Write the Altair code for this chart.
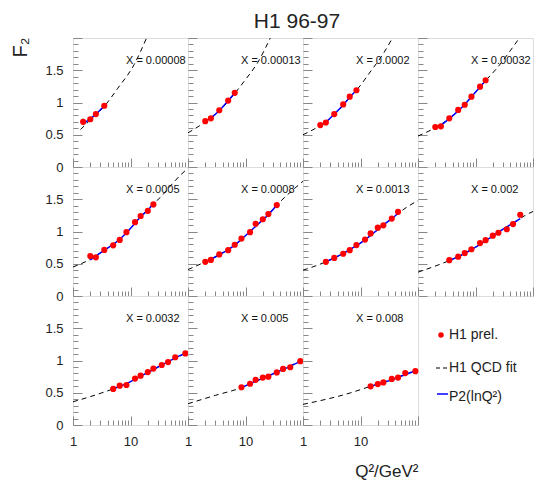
import altair as alt
import pandas as pd

FONT = "Liberation Sans"
W, H = 115, 129

main_title = "H1 96-97"
panel_labels = ["X = 0.00008", "X = 0.00013", "X = 0.0002", "X = 0.00032",
                "X = 0.0005", "X = 0.0008", "X = 0.0013", "X = 0.002",
                "X = 0.0032", "X = 0.005", "X = 0.008"]

# H1 preliminary data points
q2_data = [
    [1.5, 2, 2.5, 3.5],
    [2, 2.5, 3.5, 5, 6.5],
    [2, 2.5, 3.5, 5, 6.5, 8.5],
    [2, 2.5, 3.5, 5, 6.5, 8.5, 12, 15],
    [2, 2.5, 3.5, 5, 6.5, 8.5, 12, 15, 20, 25],
    [2, 2.5, 3.5, 5, 6.5, 8.5, 12, 15, 20, 25, 35],
    [2.5, 3.5, 5, 6.5, 8.5, 12, 15, 20, 25, 35, 45],
    [3.5, 5, 6.5, 8.5, 12, 15, 20, 25, 35, 45, 60],
    [5, 6.5, 8.5, 12, 15, 20, 25, 35, 45, 60, 90],
    [8.5, 12, 15, 20, 25, 35, 45, 60, 90],
    [15, 20, 25, 35, 45, 60, 90],
]
f2_data = [
    [0.70, 0.74, 0.82, 0.95],
    [0.71, 0.755, 0.88, 1.03, 1.15],
    [0.65, 0.69, 0.82, 0.97, 1.09, 1.19],
    [0.62, 0.63, 0.755, 0.885, 0.965, 1.09, 1.245, 1.345],
    [0.62, 0.60, 0.715, 0.785, 0.87, 0.99, 1.145, 1.24, 1.32, 1.42],
    [0.53, 0.56, 0.645, 0.71, 0.795, 0.89, 0.99, 1.12, 1.19, 1.27, 1.41],
    [0.53, 0.59, 0.655, 0.71, 0.79, 0.875, 0.97, 1.06, 1.095, 1.20, 1.305],
    [0.555, 0.61, 0.665, 0.725, 0.82, 0.865, 0.935, 0.98, 1.035, 1.115, 1.26],
    [0.56, 0.61, 0.62, 0.72, 0.765, 0.82, 0.875, 0.93, 0.975, 1.05, 1.11],
    [0.585, 0.64, 0.70, 0.735, 0.75, 0.815, 0.87, 0.895, 0.99],
    [0.60, 0.635, 0.66, 0.715, 0.735, 0.805, 0.835],
]
f2_err = [
    [0.05, 0.03, 0.03, 0.03],
    [0.03] * 5,
    [0.03] * 6,
    [0.03] * 8,
    [0.03] * 10,
    [0.03] * 11,
    [0.03] * 11,
    [0.03] * 11,
    [0.03] * 11,
    [0.03] * 9,
    [0.03] * 7,
]
# P2(lnQ2) fit, read at the data Q2 values
p2_fit = [
    [0.665, 0.75, 0.82, 0.95],
    [0.71, 0.76, 0.875, 1.03, 1.15],
    [0.645, 0.695, 0.82, 0.96, 1.08, 1.19],
    [0.61, 0.65, 0.75, 0.87, 0.97, 1.09, 1.24, 1.34],
    [0.56, 0.62, 0.71, 0.80, 0.88, 0.98, 1.13, 1.23, 1.33, 1.43],
    [0.53, 0.57, 0.64, 0.72, 0.79, 0.88, 1.00, 1.08, 1.18, 1.26, 1.41],
    [0.53, 0.59, 0.66, 0.72, 0.78, 0.87, 0.94, 1.03, 1.10, 1.20, 1.28],
    [0.55, 0.61, 0.66, 0.72, 0.80, 0.86, 0.93, 0.99, 1.07, 1.13, 1.20],
    [0.56, 0.60, 0.64, 0.71, 0.76, 0.81, 0.86, 0.93, 0.98, 1.04, 1.11],
    [0.58, 0.64, 0.68, 0.72, 0.76, 0.82, 0.86, 0.91, 0.99],
    [0.60, 0.63, 0.66, 0.70, 0.74, 0.78, 0.84],
]
# H1 QCD fit curve (ends where it leaves the frame)
qcd_q2 = [
    [1.35, 2, 3.5, 6, 11.6, 19],
    [1, 2, 3.5, 6.5, 9.5, 16.3, 27],
    [1, 2, 3.5, 6.5, 8.5, 15.2, 25, 36],
    [1, 2, 3.5, 5, 8.5, 15, 24, 40, 58],
    [1, 2, 3.5, 5, 8.5, 15, 25, 34, 50, 75, 100],
    [1, 2, 3.5, 6.5, 12, 20, 35, 62, 86, 100],
    [1, 2.5, 5, 8.5, 15, 25, 45, 70, 100],
    [1, 3.5, 6.5, 12, 20, 35, 50, 70, 100],
    [1, 2, 5, 8.5, 15, 25, 45, 90, 100],
    [1, 3, 8.5, 15, 25, 45, 90, 100],
    [1, 6.8, 15, 25, 45, 90, 100],
]
qcd_f2 = [
    [0.58, 0.73, 0.94, 1.22, 1.59, 2.0],
    [0.53, 0.70, 0.87, 1.14, 1.33, 1.62, 2.0],
    [0.50, 0.645, 0.81, 1.08, 1.19, 1.49, 1.76, 2.0],
    [0.48, 0.61, 0.75, 0.87, 1.09, 1.34, 1.54, 1.80, 2.0],
    [0.45, 0.57, 0.71, 0.80, 0.98, 1.23, 1.43, 1.54, 1.71, 1.88, 1.98],
    [0.41, 0.53, 0.64, 0.79, 1.00, 1.18, 1.41, 1.62, 1.73, 1.78],
    [0.40, 0.53, 0.66, 0.78, 0.94, 1.10, 1.28, 1.40, 1.48],
    [0.37, 0.55, 0.66, 0.80, 0.93, 1.07, 1.15, 1.24, 1.31],
    [0.36, 0.44, 0.56, 0.64, 0.76, 0.86, 0.98, 1.11, 1.13],
    [0.33, 0.46, 0.58, 0.68, 0.76, 0.86, 0.99, 1.00],
    [0.32, 0.50, 0.60, 0.66, 0.74, 0.84, 0.85],
]

y_tick_labels = [0, 0.5, 1, 1.5]
x_tick_labels = [1, 10]
y_major = [0, 0.5, 1, 1.5, 2]
y_minor = [round(0.1 * k, 1) for k in range(21)]
x_major = [1, 10, 100]
x_minor = [2, 3, 4, 5, 6, 7, 8, 9, 20, 30, 40, 50, 60, 70, 80, 90]
legend_labels = ["H1 prel.", "H1 QCD fit", "P2(lnQ²)"]

TICK = "#888888"
TXT = "#222222"


def panel(i):
    row, col = divmod(i, 4)
    df = pd.DataFrame({
        "q2": q2_data[i], "f2": f2_data[i], "fit": p2_fit[i],
        "lo": [f - e for f, e in zip(f2_data[i], f2_err[i])],
        "hi": [f + e for f, e in zip(f2_data[i], f2_err[i])],
    })
    dq = pd.DataFrame({"q2": qcd_q2[i], "f2": qcd_f2[i]})
    xs = alt.Scale(type="log", domain=[1, 100], nice=False)
    ys = alt.Scale(domain=[0, 2], nice=False, zero=False)

    if col == 0:
        yax = alt.Axis(orient="left", values=y_tick_labels, format="~g", ticks=False, tickSize=0,
                       domain=False, grid=False, labelPadding=10, labelFontSize=13, labelFont=FONT,
                       labelColor=TXT,
                       title="F₂" if i == 0 else None, titleX=-53, titleY=9, titleAngle=270,
                       titleFontSize=20, titleFont=FONT, titleFontWeight="normal",
                       titleAlign="center", titleBaseline="middle", titleColor=TXT)
    else:
        yax = None
    if row == 2:
        xax = alt.Axis(orient="bottom", values=x_tick_labels, format="~g", ticks=False, tickSize=0,
                       domain=False, grid=False, labelFlush=False, labelOverlap=False,
                       labelPadding=10, labelFontSize=13, labelFont=FONT, labelColor=TXT,
                       title="Q²/GeV²" if i == 10 else None, titleX=W, titleY=51,
                       titleAlign="right", titleBaseline="alphabetic", titleFontSize=17,
                       titleFont=FONT, titleFontWeight="normal", titleColor=TXT)
    else:
        xax = None

    tick_common = dict(labels=False, domain=False, grid=False, ticks=True,
                       tickColor=TICK, tickWidth=1, title=None)

    qcd = alt.Chart(dq).mark_line(clip=True, color="black", strokeWidth=1,
                                  strokeDash=[5, 4], interpolate="monotone").encode(
        x=alt.X("q2:Q", scale=xs, axis=xax),
        y=alt.Y("f2:Q", scale=ys, axis=yax))

    fit = alt.Chart(df).mark_line(color="#0000ff", strokeWidth=1.5, interpolate="monotone").encode(
        x=alt.X("q2:Q", scale=xs, axis=alt.Axis(orient="top", offset=-H, values=x_minor,
                                                 tickSize=5, **tick_common)),
        y=alt.Y("fit:Q", scale=ys, axis=alt.Axis(orient="right", offset=-W, values=y_minor,
                                                  tickSize=5, **tick_common)))

    err = alt.Chart(df).mark_rule(color="#444444", strokeWidth=1).encode(
        x=alt.X("q2:Q", scale=xs, axis=None),
        y=alt.Y("lo:Q", scale=ys, axis=None),
        y2="hi:Q")

    pts = alt.Chart(df).mark_circle(size=38, color="#ff0000", opacity=1).encode(
        x=alt.X("q2:Q", scale=xs, axis=alt.Axis(orient="top", offset=-H, values=x_major,
                                                 tickSize=9, **tick_common)),
        y=alt.Y("f2:Q", scale=ys, axis=alt.Axis(orient="right", offset=-W, values=y_major,
                                                 tickSize=9, **tick_common)))

    lab = alt.Chart(pd.DataFrame({"label": [panel_labels[i]]})).mark_text(
        align="left", baseline="middle", fontSize=11, font=FONT, color="#111111").encode(
        text="label:N", x=alt.value(53), y=alt.value(23))

    layers = [qcd, fit, err, pts, lab]
    if i == 2:
        # overall heading, centred slightly left of this panel's left edge
        layers.append(alt.Chart(pd.DataFrame({"t": [main_title]})).mark_text(
            align="center", baseline="alphabetic", fontSize=21, font=FONT, color=TXT).encode(
            text="t:N", x=alt.value(-6), y=alt.value(-10)))

    return alt.layer(*layers).resolve_scale(
        x="independent", y="independent").properties(width=W, height=H)


def legend_panel():
    leg = pd.DataFrame({"label": legend_labels})
    dot = alt.Chart(leg.iloc[[0]]).mark_circle(size=30, color="#ff0000", opacity=1).encode(
        x=alt.value(23), y=alt.value(39))
    dash = alt.Chart(leg.iloc[[1]]).mark_rule(color="black", strokeWidth=1, strokeDash=[4, 3]).encode(
        x=alt.value(18), x2=alt.value(30), y=alt.value(72))
    blue = alt.Chart(leg.iloc[[2]]).mark_rule(color="#0000ff", strokeWidth=1.5).encode(
        x=alt.value(19), x2=alt.value(30), y=alt.value(98))
    texts = []
    for k, yv in enumerate([39, 72, 101]):
        texts.append(alt.Chart(leg.iloc[[k]]).mark_text(
            align="left", baseline="middle", fontSize=14, font=FONT, color=TXT).encode(
            text="label:N", x=alt.value(31), y=alt.value(yv)))
    return alt.layer(dot, dash, blue, *texts).properties(
        width=W, height=H, view=alt.ViewBackground(stroke="transparent"))


panels = [panel(i) for i in range(11)] + [legend_panel()]

chart = alt.concat(*panels, columns=4, spacing=0, bounds="flush").properties(
    padding={"left": 1, "top": 2, "right": 0, "bottom": 0},
).configure_view(stroke="#666666", strokeWidth=1).configure(font=FONT)

chart.save("out.html", embed_options={"renderer": "svg", "actions": False})
